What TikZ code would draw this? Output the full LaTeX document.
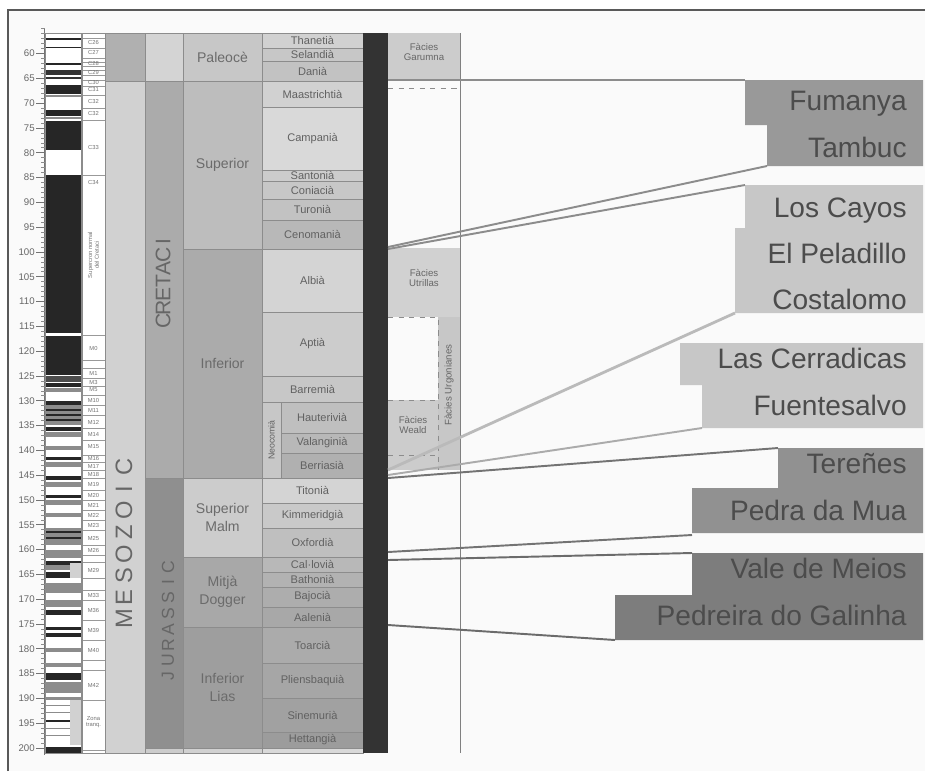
\documentclass[tikz,border=0pt]{standalone}
\usepackage{fontspec}
\setmainfont{Liberation Sans}
\usetikzlibrary{positioning}

\tikzset{
  cell/.style={draw=black!45,line width=0.5pt},
  lbl/.style={font=\fontsize{6.3}{7}\selectfont,text=black!62,align=center,inner sep=0pt},
  eplbl/.style={font=\fontsize{8}{10}\selectfont,text=black!58,align=center,inner sep=0pt},
  tinylbl/.style={font=\fontsize{3.3}{3.8}\selectfont,text=black!55,align=center,inner sep=0pt},
  agelbl/.style={font=\fontsize{5.5}{6}\selectfont,text=black!60,anchor=east,inner sep=0pt},
  faclbl/.style={font=\fontsize{5.5}{6.2}\selectfont,text=black!60,align=center,inner sep=0pt},
  bigletter/.style={text=black!60,rotate=90,inner sep=0pt},
  site/.style={font=\fontsize{16}{19}\selectfont,text=black!70,anchor=base east,inner sep=0pt},
  link/.style={line width=1.1pt},
}

\begin{document}
\begin{tikzpicture}[x=0.02cm,y=-0.02cm]
\useasboundingbox (0,0) rectangle (925,771);
\fill[black!2] (8,10) rectangle (925,771);
\draw[black!65,line width=0.8pt] (8,771) -- (8,10) -- (925,10);

% age axis
\draw[black!55] (44,28) -- (44,755);
\foreach \a in {55,...,200}
  \draw[black!45] (41,{252+(\a-100)*4.96}) -- (45,{252+(\a-100)*4.96});
\foreach \a in {60,65,...,200}{
  \draw[black!55] (36,{252+(\a-100)*4.96}) -- (45,{252+(\a-100)*4.96});
  \node[agelbl] (age\a) at (35,{252+(\a-100)*4.96}) {\a};
}

% magnetic polarity
\fill[white] (45,33) rectangle (81,753);
\foreach \ya/\yb/\c in {38/40/85,47/48/85,63/65/85,70/75/80,77/79/80,85/94/85,95/97/45,
  110/116/85,117/119/45,121/150/85,175/333/85,336/375/85,376/382/70,383/387/85,388/392/45,
  401/405/85,405/425/45,409/411/85,414/416/85,419/421/85,427/431/85,432/437/45,446/450/45,
  457/460/85,462/467/45,476/480/85,482/487/45,495/498/85,500/505/45,513/517/45,528/545/45,
  531/533/85,537/539/85,550/558/45,561/565/85,565/570/45,572/578/85,583/593/45,600/607/45,
  610/615/85,627/630/85,633/637/85,648/652/45,663/667/45,673/680/85,682/693/45,697/700/45,
  705/706/45,712/713/45,720/722/85,728/729/45,735/736/45,747/753/85}
  \fill[black!\c] (45,\ya) rectangle (81,\yb);
\fill[black!18] (70,563) rectangle (81,578);
\fill[black!18] (70,700) rectangle (81,745);
\draw[black!45] (45,33) rectangle (81,753);

% chrons
\fill[white] (82,33) rectangle (105,753);
\foreach \y in {38,48,58,62,66,70,75,80,86,95,108,120,175,335,360,368,378,386,395,405,415,428,
  440,455,462,470,478,490,500,510,520,530,545,555,562,578,590,600,620,640,660,670,700,750}
  \draw[black!40,line width=0.3pt] (82,\y) -- (105,\y);
\foreach \y/\t [count=\i] in {43/C26,53/C27,64/C28,73/C29,83/C30,90/C31,101/C32,114/C32,147/C33,
  182/C34,348/M0,373/M1,382/M3,390/M5,400/M10,410/M11,422/M12,434/M14,447/M15,458/M16,466/M17,
  474/M18,484/M19,495/M20,505/M21,515/M22,525/M23,538/M25,550/M26,570/M29,595/M33,610/M36,
  630/M39,650/M40,685/M42,722/{Zona\\tranq.}}
  \node[tinylbl] (ch\i) at (93.5,\y) {\t};
\node[tinylbl,rotate=90] (superchron) at (93.5,255) {Supercron normal\\del Cretaci};
\draw[black!45] (82,33) rectangle (105,753);

% era and period
\filldraw[cell,fill=black!31] (105,33) rectangle (145,81);
\filldraw[cell,fill=black!18] (105,81) rectangle (145,753);
\filldraw[cell,fill=black!17] (145,33) rectangle (183,81);
\filldraw[cell,fill=black!33] (145,81) rectangle (183,478);
\filldraw[cell,fill=black!44] (145,478) rectangle (183,748);
\filldraw[cell,fill=black!20] (145,748) rectangle (183,753);
\foreach \l [count=\i] in {M,E,S,O,Z,O,I,C}
  \node[bigletter,font=\fontsize{13.5}{14}\selectfont] (meso\i) at (124,{619-(\i-1)*21.7}) {\l};
\foreach \l [count=\i] in {C,R,E,T,A,C,I}
  \node[bigletter,font=\fontsize{12}{13}\selectfont] (cret\i) at (163,{321-(\i-1)*13.2}) {\l};
\foreach \l [count=\i] in {J,U,R,A,S,S,I,C}
  \node[bigletter,font=\fontsize{10}{11}\selectfont] (jur\i) at (168,{676-(\i-1)*15.6}) {\l};

% epochs
\foreach \ya/\yb/\c/\t [count=\i] in {33/81/22/Paleocè,81/249/26/Superior,249/478/33/Inferior,
  478/557/20/Superior\\Malm,557/627/34/Mitjà\\Dogger,627/748/38/Inferior\\Lias}{
  \filldraw[cell,fill=black!\c] (183,\ya) rectangle (262,\yb);
  \node[eplbl] (ep\i) at (222.5,{(\ya+\yb)/2}) {\t};
}
\filldraw[cell,fill=black!18] (183,748) rectangle (262,753);

% stages
\foreach \xa/\ya/\yb/\c/\t [count=\i] in {262/33/48/18/Thanetià,262/48/61/22/Selandià,
  262/61/81/24/Danià,262/81/107/18/Maastrichtià,262/107/170/15/Campanià,262/170/181/20/Santonià,
  262/181/199/22/Coniacià,262/199/220/24/Turonià,262/220/249/28/Cenomanià,262/249/312/17/Albià,
  262/312/376/20/Aptià,262/376/402/22/Barremià,281/402/433/25/Hauterivià,
  281/433/453/28/Valanginià,281/453/478/31/Berriasià,262/478/503/17/Titonià,
  262/503/528/21/Kimmeridgià,262/528/557/25/Oxfordià,262/557/572/28/Cal·lovià,
  262/572/587/30/Bathonià,262/587/607/32/Bajocià,262/607/627/34/Aalenià,262/627/663/33/Toarcià,
  262/663/698/35/Pliensbaquià,262/698/732/37/Sinemurià,262/732/748/39/Hettangià}{
  \filldraw[cell,fill=black!\c] (\xa,\ya) rectangle (363,\yb);
  \node[lbl] (st\i) at ({(\xa+363)/2},{(\ya+\yb)/2}) {\t};
}
\filldraw[cell,fill=black!22] (262,402) rectangle (281,478);
\node[lbl,rotate=90,font=\fontsize{5}{6}\selectfont] (neocomia) at (271.5,440) {Neocomià};
\filldraw[cell,fill=black!15] (262,748) rectangle (363,753);

% black column
\fill[black!80] (363,33) rectangle (388,753);

% facies
\fill[black!20] (388,33) rectangle (460,80);
\node[faclbl] (garumna) at (424,52) {Fàcies\\Garumna};
\draw[black!45,dashed] (388,88) -- (460,88);
\fill[black!18] (388,248) rectangle (460,317);
\node[faclbl] (utrillas) at (424,278) {Fàcies\\Utrillas};
\fill[black!22] (438,317) rectangle (460,470);
\node[faclbl,rotate=90] (urgonianes) at (449,385) {Fàcies Urgonianes};
\fill[black!20] (388,400) rectangle (438,470);
\node[faclbl] (weald) at (413,425) {Fàcies\\Weald};
\draw[black!45,dashed] (388,317) -- (438,317) -- (438,470);
\draw[black!45,dashed] (388,400) -- (438,400);
\draw[black!45,dashed] (388,455) -- (438,455);
\draw[black!50] (460,33) -- (460,753);

% localities
\fill[black!40] (745,80) -- (923,80) -- (923,166) -- (767,166) -- (767,125) -- (745,125) -- cycle;
\fill[black!22] (745,185) -- (923,185) -- (923,313) -- (735,313) -- (735,228) -- (745,228) -- cycle;
\fill[black!22] (680,343) -- (923,343) -- (923,428) -- (702,428) -- (702,385) -- (680,385) -- cycle;
\fill[black!43] (778,448) -- (923,448) -- (923,533) -- (692,533) -- (692,488) -- (778,488) -- cycle;
\fill[black!51] (692,553) -- (923,553) -- (923,640) -- (615,640) -- (615,595) -- (692,595) -- cycle;
\node[site] (fumanya) at (907,110) {Fumanya};
\node[site] (tambuc) at (907,157) {Tambuc};
\node[site] (loscayos) at (907,217) {Los Cayos};
\node[site] (peladillo) at (907,263) {El Peladillo};
\node[site] (costalomo) at (907,309) {Costalomo};
\node[site] (cerradicas) at (907,368) {Las Cerradicas};
\node[site] (fuentesalvo) at (907,415) {Fuentesalvo};
\node[site] (terenes) at (907,473) {Tereñes};
\node[site] (pedra) at (907,520) {Pedra da Mua};
\node[site] (vale) at (907,578) {Vale de Meios};
\node[site] (pedreira) at (907,625) {Pedreira do Galinha};

% connectors
\coordinate (a1) at (388,80);
\coordinate (a2) at (388,247);
\coordinate (a3) at (388,249);
\coordinate (a4) at (388,470);
\coordinate (a5) at (388,475);
\coordinate (a6) at (388,478);
\coordinate (a7) at (388,552);
\coordinate (a8) at (388,560);
\coordinate (a9) at (388,625);
\coordinate (b1) at (745,80);
\coordinate (b2) at (767,166);
\coordinate (b3) at (745,185);
\coordinate (b4) at (735,313);
\coordinate (b5) at (702,428);
\coordinate (b6) at (778,448);
\coordinate (b7) at (692,535);
\coordinate (b8) at (692,553);
\coordinate (b9) at (615,640);
\draw[link,black!45] (a1) -- (b1);
\draw[link,black!45] (a2) -- (b2);
\draw[link,black!45] (a3) -- (b3);
\draw[link,black!27,line width=1.6pt] (a4) -- (b4);
\draw[link,black!33] (a5) -- (b5);
\draw[link,black!55] (a6) -- (b6);
\draw[link,black!55] (a7) -- (b7);
\draw[link,black!58] (a8) -- (b8);
\draw[link,black!58] (a9) -- (b9);
\end{tikzpicture}
\end{document}
